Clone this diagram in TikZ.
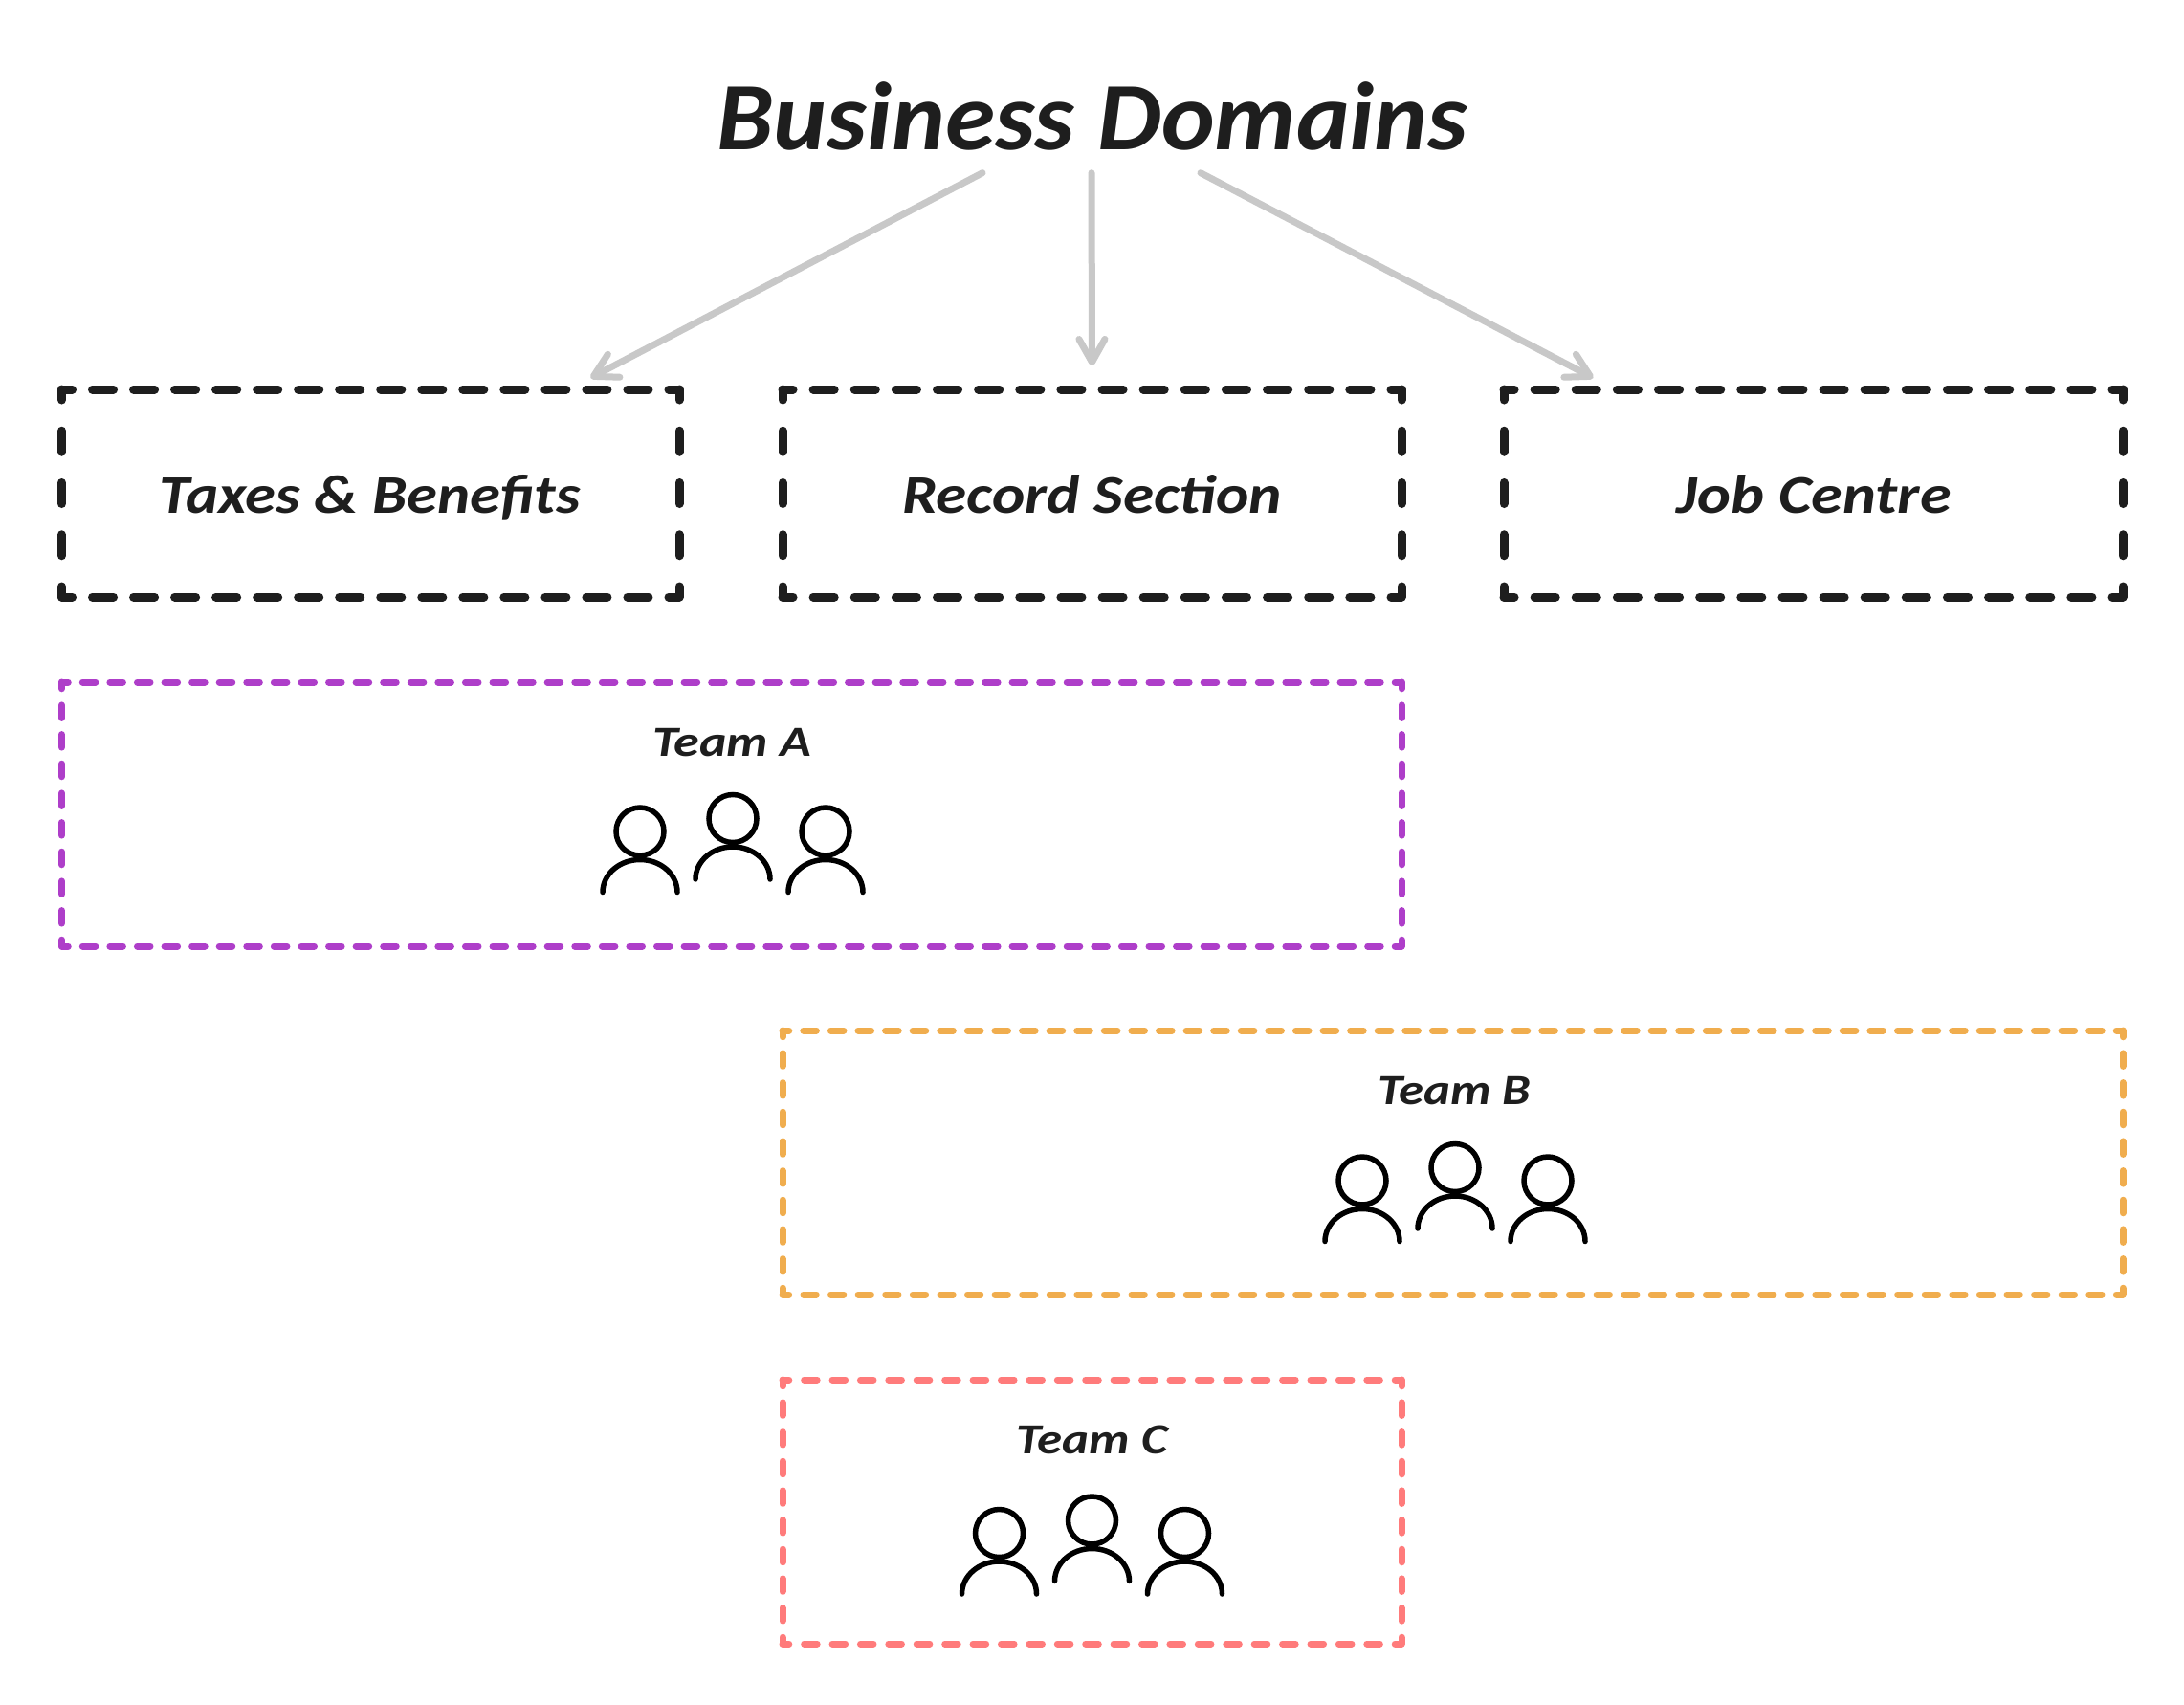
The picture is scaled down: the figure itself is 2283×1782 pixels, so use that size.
\documentclass[tikz,border=0pt]{standalone}
\usepackage{fontspec}
\usepackage{graphicx}
\setmainfont{Carlito}
\usetikzlibrary{calc,arrows.meta}
\definecolor{ink}{HTML}{1E1E1E}
\definecolor{arrowgrey}{HTML}{C8C8C8}
\definecolor{teamA}{HTML}{AE3EC9}
\definecolor{teamB}{HTML}{F0AD4E}
\definecolor{teamC}{HTML}{FF7B7B}
\tikzset{
  x=1pt,y=-1pt,
  lbl/.style={inner sep=0pt,outer sep=0pt,text=ink,anchor=base,font=\bfseries\itshape},
  flow/.style={draw=arrowgrey,line width=7pt,line cap=round,-{Straight Barb[length=24pt,width=27pt,line width=7pt,round]}},
  person/.style={draw=black,line width=5.5pt,line cap=round}
}
\newcommand{\fitw}[3]{\resizebox{#1pt}{\height}{\fontsize{#2}{#2}\selectfont #3}}
% one side: a half dash at each end, whole dashes between
\newcommand{\dside}[6]{% from, to, length, periods, colour, width
  \pgfmathsetmacro{\per}{#3/#4}\pgfmathsetmacro{\don}{\dvis-#6}\pgfmathsetmacro{\doff}{\per-\don}
  \pgfmathsetmacro{\ph}{\don/2}
  \draw[draw=#5,line width=#6pt,line cap=round,dash pattern=on \don pt off \doff pt,dash phase=\ph pt] (#1) -- (#2);}
\newcommand{\dbox}[9]{% name x1 y1 x2 y2 nh nv colour width
  \pgfmathsetmacro{\bw}{#4-#2}\pgfmathsetmacro{\bh}{#5-#3}
  \pgfmathsetmacro{\bx}{(#4+#2)/2}\pgfmathsetmacro{\by}{(#5+#3)/2}
  \node[rectangle,inner sep=0pt,outer sep=0pt,minimum width=\bw pt,minimum height=\bh pt] (#1) at (\bx,\by) {};
  \dside{#1.north west}{#1.north east}{\bw}{#6}{#8}{#9}
  \dside{#1.south west}{#1.south east}{\bw}{#6}{#8}{#9}
  \dside{#1.north west}{#1.south west}{\bh}{#7}{#8}{#9}
  \dside{#1.north east}{#1.south east}{\bh}{#7}{#8}{#9}
}
\newcommand{\oneperson}[2]{%
  \draw[person] (#1,#2) circle[radius=25pt];
  \draw[person] (#1-39,#2+63.5) arc[start angle=180,end angle=0,x radius=39pt,y radius=34pt];}
\newcommand{\trio}[2]{% centre x, y of the outer heads
  \oneperson{#1-97}{#2}
  \oneperson{#1}{#2-13.5}
  \oneperson{#1+97}{#2}}
\begin{document}
\begin{tikzpicture}
\useasboundingbox (0,0) rectangle (2283,1782);
\fill[white] (0,0) rectangle (2283,1782);

\node[lbl] (title) at (1142,157) {\fitw{785}{101}{Business Domains}};

\def\dvis{31}
\dbox{taxes}{64.5}{407}{710}{624}{15}{4}{ink}{9}
\dbox{record}{818}{407}{1465}{624}{15}{4}{ink}{9}
\dbox{job}{1572}{407}{2219}{624}{15}{4}{ink}{9}
\node[lbl] (taxesl) at (387,536) {\fitw{440}{57}{Taxes \& Benefits}};
\node[lbl] (recordl) at (1141.5,536) {\fitw{397}{57}{Record Section}};
\node[lbl] (jobl) at (1896,536) {\fitw{287}{57}{Job Centre}};

\draw[flow] ([xshift=-115pt,yshift=-23pt]title.south) -- ([xshift=230pt,yshift=12pt]taxes.north);
\draw[flow] ([xshift=-1pt,yshift=-23pt]title.south) -- ([yshift=25pt]record.north);
\draw[flow] ([xshift=113pt,yshift=-23pt]title.south) -- ([xshift=-230pt,yshift=12pt]job.north);

\def\dvis{20.5}
\dbox{teama}{64.5}{713}{1465}{989}{49}{9}{teamA}{7}
\dbox{teamb}{818}{1077}{2219}{1353}{49}{9}{teamB}{7}
\dbox{teamc}{818}{1442}{1465}{1718}{22}{9}{teamC}{7}
\node[lbl] (teamal) at (765,790) {\fitw{166}{45}{Team A}};
\node[lbl] (teambl) at (1520,1154) {\fitw{160}{45}{Team B}};
\node[lbl] (teamcl) at (1141.5,1519) {\fitw{158}{45}{Team C}};
\trio{766}{869}
\trio{1521}{1234}
\trio{1141.5}{1602.5}
\end{tikzpicture}
\end{document}
